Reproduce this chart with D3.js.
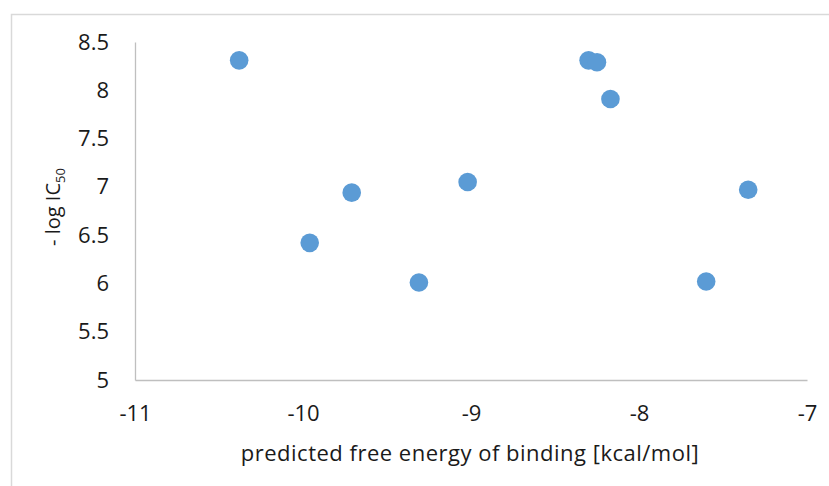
<!DOCTYPE html>
<html>
<head>
<meta charset="utf-8">
<script src="https://cdn.jsdelivr.net/npm/d3@7"></script>
<style>
  body { margin: 0; background: #fff; }
  svg { display: block; }
</style>
</head>
<body>
<div class="graphic_container"></div>
<script>
// data
const bindingEnergy = [-10.38, -9.96, -9.71, -9.31, -9.02, -8.30, -8.25, -8.17, -7.60, -7.35];
const logIC50 = [8.31, 6.42, 6.94, 6.01, 7.05, 8.31, 8.29, 7.91, 6.02, 6.97];
const xTicks = [-11, -10, -9, -8, -7];
const yTicks = [5, 5.5, 6, 6.5, 7, 7.5, 8, 8.5];

const width = 829, height = 486;
const plot = {left: 135, right: 807, top: 42, bottom: 380};

const svg = d3.select('.graphic_container')
  .append('svg')
  .attr('width', width)
  .attr('height', height)
  .style('font-family', `'Open Sans', sans-serif`);

// outer chart frame (cropped at right and bottom)
svg.append('rect')
  .attr('x', 11.5)
  .attr('y', 14.5)
  .attr('width', 840)
  .attr('height', 500)
  .style('fill', 'none')
  .style('stroke', '#d9d9d9')
  .style('stroke-width', 1.5);

const x = d3.scaleLinear().domain([-11, -7]).range([plot.left, plot.right]);
const y = d3.scaleLinear().domain([5, 8.5]).range([plot.bottom, plot.top]);

// plain hyphen for negatives, like the original
const fmt = d => String(d);

const xAxis = d3.axisBottom(x).tickValues(xTicks).tickSize(0).tickPadding(25).tickFormat(fmt);
const yAxis = d3.axisLeft(y).tickValues(yTicks).tickSize(0).tickPadding(26).tickFormat(fmt);

const gx = svg.append('g')
  .attr('transform', `translate(0,${plot.bottom})`)
  .call(xAxis);
const gy = svg.append('g')
  .attr('transform', `translate(${plot.left},0)`)
  .call(yAxis);

[gx, gy].forEach(g => {
  g.select('.domain').style('stroke', '#bfbfbf').style('stroke-width', 1.3);
  g.selectAll('text')
    .style('font-size', '22px')
    .style('font-family', `'Open Sans', sans-serif`)
    .style('fill', '#1a1a1a');
});

// axis titles
svg.append('text')
  .attr('x', (plot.left + plot.right) / 2 - 1)
  .attr('y', 461)
  .attr('text-anchor', 'middle')
  .style('font-size', '22px')
  .style('letter-spacing', '0.5px')
  .style('fill', '#1a1a1a')
  .text('predicted free energy of binding [kcal/mol]');

const yTitle = svg.append('text')
  .attr('transform', `translate(60,${(plot.top + plot.bottom) / 2 - 4}) rotate(-90)`)
  .attr('text-anchor', 'middle')
  .style('font-size', '20px')
  .style('fill', '#1a1a1a');
yTitle.append('tspan').text('- log IC');
yTitle.append('tspan').text('50').attr('dy', 5).style('font-size', '13px');

// points
svg.append('g')
  .selectAll('circle')
  .data(bindingEnergy.map((d, i) => ({e: d, v: logIC50[i]})))
  .join('circle')
  .attr('cx', d => x(d.e))
  .attr('cy', d => y(d.v))
  .attr('r', 9.3)
  .style('fill', '#5b9bd5');
</script>
</body>
</html>
